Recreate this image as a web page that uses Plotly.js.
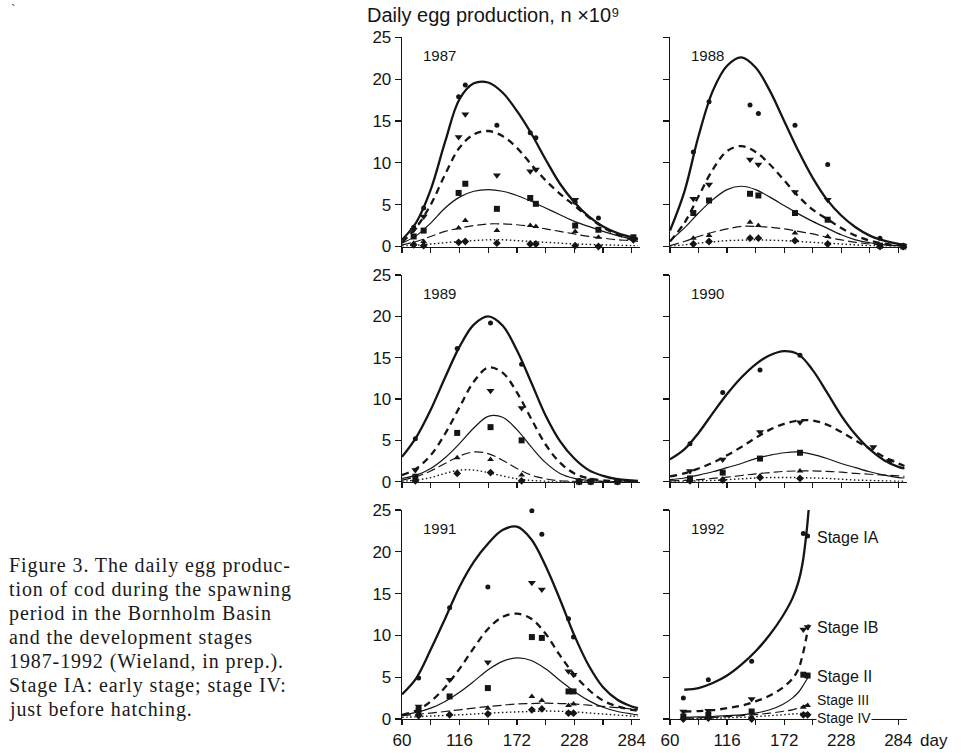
<!DOCTYPE html>
<html><head><meta charset="utf-8">
<script src="https://cdn.plot.ly/plotly-3.0.1.min.js"></script>
<style>html,body{margin:0;padding:0;background:#fff;} #chart{width:965px;height:753px;}</style>
</head><body><div id="chart"></div>
<script>
// ================= DATA =================
const years = ['1987','1988','1989','1990','1991','1992'];
const stages = ['Stage IA','Stage IB','Stage II','Stage III','Stage IV'];
const xTickVals = [60,116,172,228,284];
const xTickText = ['60','116','172','228','284'];
const xMinorStep = 28;
const yTickVals = [0,5,10,15,20,25];
const yTickText = ['0','5','10','15','20','25'];

// fitted curves
const fitDays = [60,74,88,102,116,130,144,158,172,186,200,214,228,242,256,270,284,290];
const fitDays1992 = [74,88,102,116,130,144,158,170,180,186,190,194,196];

const fit1987_IA  = [0.8,2.9,6.8,12.5,17.6,19.5,19.6,18.4,16.2,13.5,10.4,7.5,5.3,3.6,2.4,1.6,1.1,0.9];
const fit1987_IB  = [0.5,2.3,5.0,8.6,11.8,13.4,13.8,13.2,11.8,9.8,7.9,6.3,4.9,3.5,2.3,1.4,0.8,0.6];
const fit1987_II  = [0.4,1.3,2.8,4.6,5.9,6.6,6.8,6.6,6.1,5.4,4.6,3.8,3.0,2.4,1.8,1.3,0.9,0.8];
const fit1987_III = [0.2,0.6,1.2,1.8,2.2,2.5,2.7,2.7,2.6,2.4,2.1,1.8,1.5,1.2,1.0,0.8,0.7,0.6];
const fit1987_IV  = [0.05,0.15,0.3,0.45,0.6,0.7,0.8,0.8,0.7,0.6,0.5,0.4,0.3,0.25,0.2,0.15,0.1,0.1];

const fit1988_IA  = [1.9,6.5,13.2,18.6,21.6,22.6,21.4,18.6,15.0,11.4,8.2,5.6,3.7,2.3,1.3,0.7,0.3,0.2];
const fit1988_IB  = [0.6,2.8,6.0,9.2,11.4,12.0,11.3,9.8,7.9,6.0,4.4,3.3,2.2,1.3,0.7,0.35,0.1,0.05];
const fit1988_II  = [0.7,2.2,4.0,5.6,6.8,7.2,6.8,5.9,4.9,3.9,3.0,2.2,1.4,0.8,0.45,0.2,0.1,0.05];
const fit1988_III = [0.1,0.6,1.2,1.7,2.1,2.4,2.4,2.3,2.1,1.8,1.5,1.1,0.8,0.5,0.3,0.15,0.05,0.03];
const fit1988_IV  = [0.0,0.2,0.4,0.55,0.7,0.75,0.8,0.75,0.7,0.6,0.5,0.4,0.3,0.2,0.1,0.05,0.0,0.0];

const fit1989_IA  = [3.0,5.4,8.7,12.6,16.3,19.0,20.0,18.9,15.9,12.0,8.0,4.9,2.8,1.4,0.7,0.3,0.15,0.1];
const fit1989_IB  = [0.8,1.6,3.2,5.8,9.0,12.1,13.8,13.2,10.8,7.6,4.5,2.3,1.0,0.4,0.15,0.05,0,0];
const fit1989_II  = [0.4,0.8,1.6,2.9,4.6,6.5,7.9,7.8,6.3,4.2,2.3,1.0,0.4,0.15,0.05,0,0,0];
const fit1989_III = [0.2,0.6,1.3,2.2,3.1,3.6,3.4,2.6,1.6,0.8,0.35,0.1,0.05,0,0,0,0,0];
const fit1989_IV  = [0.05,0.2,0.5,1.0,1.4,1.4,1.1,0.7,0.35,0.15,0.05,0,0,0,0,0,0,0];

const fit1990_IA  = [2.7,3.9,5.9,8.3,10.6,12.6,14.2,15.3,15.8,15.4,13.5,10.8,8.0,5.7,3.9,2.6,1.8,1.6];
const fit1990_IB  = [0.65,1.0,1.6,2.3,3.2,4.2,5.3,6.3,7.0,7.4,7.4,6.9,6.0,5.0,4.0,3.0,2.2,1.9];
const fit1990_II  = [0.25,0.45,0.8,1.2,1.7,2.2,2.8,3.2,3.5,3.6,3.3,2.8,2.2,1.7,1.2,0.8,0.5,0.45];
const fit1990_III = [0.1,0.15,0.25,0.4,0.55,0.75,0.95,1.1,1.25,1.3,1.3,1.25,1.15,1.0,0.9,0.8,0.7,0.65];
const fit1990_IV  = [0.0,0.05,0.1,0.15,0.25,0.35,0.45,0.5,0.5,0.5,0.45,0.4,0.3,0.2,0.15,0.1,0.05,0.05];

const fit1991_IA  = [2.95,4.9,8.3,12.0,15.8,18.8,21.0,22.6,23.0,21.5,18.3,14.3,10.0,6.4,3.8,2.3,1.5,1.3];
const fit1991_IB  = [0.5,1.0,2.1,3.8,6.0,8.5,10.8,12.2,12.6,12.0,10.2,7.6,5.3,3.5,2.2,1.5,1.1,1.0];
const fit1991_II  = [0.5,0.8,1.3,2.1,3.2,4.5,5.9,6.9,7.3,7.0,6.0,4.6,3.3,2.2,1.4,0.9,0.6,0.5];
const fit1991_III = [0.4,0.55,0.7,0.9,1.1,1.3,1.5,1.65,1.8,1.85,1.9,1.85,1.8,1.65,1.5,1.35,1.2,1.1];
const fit1991_IV  = [0.2,0.27,0.35,0.42,0.5,0.6,0.7,0.78,0.85,0.9,0.95,0.92,0.85,0.72,0.6,0.47,0.35,0.3];

const fit1992_IA  = [3.5,3.7,4.3,5.2,6.5,8.1,10.1,12.2,14.4,16.4,18.6,22.4,25.0];
const fit1992_IB  = [0.9,0.95,1.05,1.3,1.6,2.1,2.8,3.7,4.8,6.0,7.6,9.9,11.3];
const fit1992_II  = [0.2,0.25,0.3,0.4,0.5,0.7,1.1,1.7,2.5,3.2,3.9,4.7,5.1];
const fit1992_III = [0.1,0.13,0.2,0.28,0.4,0.52,0.7,0.9,1.1,1.3,1.5,1.7,1.8];
const fit1992_IV  = [0.05,0.07,0.1,0.14,0.2,0.28,0.4,0.5,0.6,0.65,0.68,0.7,0.7];

const obsDays1987 = [71.4,81.1,115.2,121.7,152.5,185,190.5,228.8,251.5,285.6];
const obs1987_IA  = [2.3,4.6,17.9,19.3,14.5,13.6,13.0,5.3,3.4,1.1];
const obs1987_IB  = [2.0,3.6,13.1,15.8,8.5,9.0,9.2,5.6,0.0,0.9];
const obs1987_II  = [1.2,1.9,6.4,7.5,4.5,5.8,5.1,2.5,2.0,1.1];
const obs1987_III = [0.4,0.6,2.2,3.1,1.9,2.5,2.4,1.8,1.1,1.0];
const obs1987_IV  = [0.2,0.1,0.5,0.6,0.4,0.3,0.3,0.1,0.0,0.8];

const obsDays1988 = [82.9,98.3,138.5,146.7,182.6,214.7,266,288.9];
const obs1988_IA  = [11.3,17.3,16.9,15.9,14.5,9.8,1.0,0.1];
const obs1988_IB  = [5.7,7.4,10.4,9.8,6.5,5.6,0.1,0.1];
const obs1988_II  = [4.0,5.5,6.3,6.1,4.0,3.2,0.1,0.0];
const obs1988_III = [1.0,1.3,2.9,2.5,1.6,1.2,0.1,0.0];
const obs1988_IV  = [0.3,0.6,1.0,1.0,0.7,0.3,0.0,0.0];

const obsDays1989 = [73,113.8,146.3,176.6,232.7,244,270];
const obs1989_IA  = [5.2,16.1,19.2,14.2,0.1,0.1,0.1];
const obs1989_IB  = [1.4,null,11.0,8.9,0.05,0.05,0.05];
const obs1989_II  = [0.6,5.9,6.6,5.0,0,0,0];
const obs1989_III = [0.2,2.9,2.7,0.8,0,0,0];
const obs1989_IV  = [0.1,1.0,1.1,0.1,0,0,0];

const obsDays1990 = [79.6,111.7,148.3,187.5,259.5,275.8];
const obs1990_IA  = [4.6,10.8,13.5,15.3,null,2.5];
const obs1990_IB  = [1.3,2.7,6.0,7.2,4.2,2.5];
const obs1990_II  = [0.4,1.1,2.8,3.5,null,null];
const obs1990_III = [0.25,0.3,0.7,1.3,null,null];
const obs1990_IV  = [0.1,0.2,0.5,0.4,null,null];

const obsDays1991 = [76.2,106.4,143.7,186.6,196.3,222.3,227.2];
const obs1991_IA  = [4.9,13.3,15.8,24.9,22.1,12.0,9.8];
const obs1991_IB  = [1.5,4.7,6.8,16.3,15.5,5.7,5.3];
const obs1991_II  = [1.1,2.7,3.7,9.8,9.7,3.3,3.3];
const obs1991_III = [0.7,0.6,1.3,2.7,2.2,1.6,1.8];
const obs1991_IV  = [0.4,0.5,0.6,1.1,1.2,0.7,0.7];

const obsDays1992 = [73.1,97.6,140.1,190.8,195];
const obs1992_IA  = [2.5,4.7,6.9,22.2,21.9];
const obs1992_IB  = [0.9,1.0,2.4,10.7,11.0];
const obs1992_II  = [0.3,0.5,0.9,5.3,5.2];
const obs1992_III = [0.1,0.2,0.2,1.4,1.6];
const obs1992_IV  = [0.0,0.1,0.0,0.5,0.5];

const captionLines = [
  'Figure 3. The daily egg produc-',
  'tion of cod during the spawning',
  'period in the Bornholm Basin',
  'and the development stages',
  '1987-1992 (Wieland, in prep.).',
  'Stage IA: early stage; stage IV:',
  'just before hatching.'
];
const titleText = 'Daily egg production, n \u00d710\u2079';

// ================= BUILD =================
const panels = [
  {days: fitDays, fits: [fit1987_IA,fit1987_IB,fit1987_II,fit1987_III,fit1987_IV], od: obsDays1987, obs: [obs1987_IA,obs1987_IB,obs1987_II,obs1987_III,obs1987_IV]},
  {days: fitDays, fits: [fit1988_IA,fit1988_IB,fit1988_II,fit1988_III,fit1988_IV], od: obsDays1988, obs: [obs1988_IA,obs1988_IB,obs1988_II,obs1988_III,obs1988_IV]},
  {days: fitDays, fits: [fit1989_IA,fit1989_IB,fit1989_II,fit1989_III,fit1989_IV], od: obsDays1989, obs: [obs1989_IA,obs1989_IB,obs1989_II,obs1989_III,obs1989_IV]},
  {days: fitDays, fits: [fit1990_IA,fit1990_IB,fit1990_II,fit1990_III,fit1990_IV], od: obsDays1990, obs: [obs1990_IA,obs1990_IB,obs1990_II,obs1990_III,obs1990_IV]},
  {days: fitDays, fits: [fit1991_IA,fit1991_IB,fit1991_II,fit1991_III,fit1991_IV], od: obsDays1991, obs: [obs1991_IA,obs1991_IB,obs1991_II,obs1991_III,obs1991_IV]},
  {days: fitDays1992, fits: [fit1992_IA,fit1992_IB,fit1992_II,fit1992_III,fit1992_IV], od: obsDays1992, obs: [obs1992_IA,obs1992_IB,obs1992_II,obs1992_III,obs1992_IV]}
];

const INK = '#151515';
const lineStyles = [
  {width: 2.3, dash: 'solid'},
  {width: 2.3, dash: '7px,5px'},
  {width: 1.2, dash: 'solid'},
  {width: 1.2, dash: '9px,4px'},
  {width: 1.4, dash: '1.5px,2.5px'}
];
const markerStyles = [
  {symbol: 'circle', size: 5},
  {symbol: 'triangle-down', size: 7},
  {symbol: 'square', size: 6},
  {symbol: 'triangle-up', size: 6},
  {symbol: 'diamond', size: 6}
];

const W = 965, H = 753;
const px = v => v / W;
const py = v => 1 - v / H;
const colDomains = [[px(402), px(640)], [px(670), px(907)]];
const colRanges = [[60, 292], [60, 292.5]];
const rowDomains = [[py(246.5), py(37.3)], [py(481.7), py(275)], [py(719), py(510)]];

const traces = [];
const layout = {
  width: W, height: H,
  margin: {l: 0, r: 0, t: 0, b: 0},
  paper_bgcolor: '#fff', plot_bgcolor: 'rgba(0,0,0,0)',
  showlegend: false,
  font: {family: 'Liberation Sans, Arial, sans-serif', size: 17, color: INK},
  annotations: []
};

panels.forEach((p, i) => {
  const col = i % 2, row = Math.floor(i / 2);
  const xid = i === 0 ? 'x' : 'x' + (i + 1);
  const yid = i === 0 ? 'y' : 'y' + (i + 1);
  const xkey = i === 0 ? 'xaxis' : 'xaxis' + (i + 1);
  const ykey = i === 0 ? 'yaxis' : 'yaxis' + (i + 1);
  layout[xkey] = {
    domain: colDomains[col], range: colRanges[col], anchor: yid,
    showline: true, linecolor: INK, linewidth: 1.3, mirror: false,
    ticks: 'outside', ticklen: 5, tickwidth: 1.2, tickcolor: INK,
    tickmode: 'array', tickvals: xTickVals, ticktext: xTickText,
    minor: {tick0: xTickVals[0], dtick: xMinorStep, ticks: 'outside', ticklen: 5, tickwidth: 1.2, tickcolor: INK, showgrid: false},
    showticklabels: row === 2, tickfont: {size: 17},
    showgrid: false, zeroline: false, fixedrange: true
  };
  layout[ykey] = {
    domain: rowDomains[row], range: [0, 25], anchor: xid,
    showline: true, linecolor: INK, linewidth: 1.3,
    ticks: 'outside', ticklen: 6, tickwidth: 1.2, tickcolor: INK,
    tickmode: 'array', tickvals: yTickVals, ticktext: yTickText,
    showticklabels: col === 0, tickfont: {size: 17},
    showgrid: false, zeroline: false, fixedrange: true
  };
  p.fits.forEach((ys, s) => {
    traces.push({
      type: 'scatter', mode: 'lines', x: p.days, y: ys, xaxis: xid, yaxis: yid,
      name: years[i] + ' ' + stages[s] + ' fit',
      line: {color: INK, width: lineStyles[s].width, dash: lineStyles[s].dash, shape: 'spline', smoothing: 1},
      hoverinfo: 'skip'
    });
  });
  p.obs.forEach((ys, s) => {
    traces.push({
      type: 'scatter', mode: 'markers', x: p.od, y: ys, xaxis: xid, yaxis: yid,
      name: years[i] + ' ' + stages[s],
      marker: {color: INK, symbol: markerStyles[s].symbol, size: markerStyles[s].size, line: {width: 0}},
      cliponaxis: false, hoverinfo: 'skip'
    });
  });
  layout.annotations.push({
    xref: xid, yref: yid, x: 97, y: 22.8, text: years[i], showarrow: false,
    xanchor: 'center', yanchor: 'middle', font: {size: 15, color: INK}
  });
});

// stage labels in the 1992 panel
const stageLabelY = [21.7, 10.9, 5.1, 2.25, 0.1];
const stageLabelSize = [16, 16, 16, 14, 14];
stages.forEach((s, k) => {
  layout.annotations.push({
    xref: 'x6', yref: 'y6', x: 203, y: stageLabelY[k], text: s, showarrow: false,
    xanchor: 'left', yanchor: 'middle', font: {size: stageLabelSize[k], color: INK},
    bgcolor: k === 4 ? '#fff' : 'rgba(0,0,0,0)', borderpad: 0
  });
});

// axis / title texts
layout.annotations.push({
  xref: 'paper', yref: 'paper', x: px(918), y: py(740), text: 'day', showarrow: false,
  xanchor: 'left', yanchor: 'middle', font: {size: 17, color: INK}
});
layout.annotations.push({
  xref: 'paper', yref: 'paper', x: px(365), y: py(15.5), text: titleText, showarrow: false,
  xanchor: 'left', yanchor: 'middle', font: {size: 20, color: INK}
});
layout.annotations.push({
  xref: 'paper', yref: 'paper', x: px(9), y: py(10), text: '`', showarrow: false,
  xanchor: 'left', yanchor: 'middle', font: {size: 14, color: '#444'}
});

// caption
captionLines.forEach((t, k) => {
  layout.annotations.push({
    xref: 'paper', yref: 'paper', x: px(7), y: py(565 + 24 * k), text: t, showarrow: false,
    xanchor: 'left', yanchor: 'middle', align: 'left',
    font: {family: 'Liberation Serif, Times New Roman, serif', size: 20, color: '#1a1a1a'}
  });
});

Plotly.newPlot('chart', traces, layout, {staticPlot: true, displayModeBar: false}).then(gd => {
  gd.querySelectorAll('.annotation-text').forEach(el => {
    const ff = (el.style.fontFamily || '') + (el.getAttribute('style') || '');
    if (ff.indexOf('Serif') >= 0) el.style.letterSpacing = '0.9px';
  });
});
</script>
</body></html>
